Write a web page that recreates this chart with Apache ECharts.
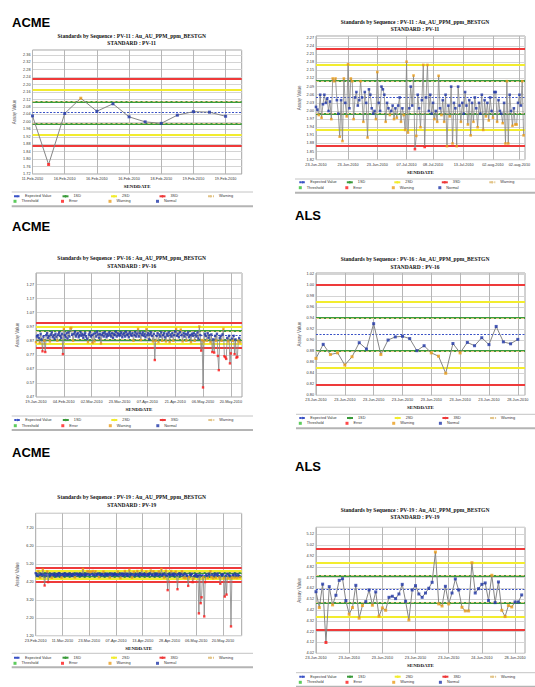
<!DOCTYPE html>
<html><head><meta charset="utf-8">
<script src="https://cdn.jsdelivr.net/npm/echarts@6/dist/echarts.min.js"></script>
<style>html,body{margin:0;padding:0;background:#fff}#c{width:535px;height:687px}</style>
</head><body><div id="c"></div>
<script>
// ================= DATA =================
// Panel 1 : ACME  PV-11
const p1Title = 'Standards by Sequence : PV-11 : Au_AU_PPM_ppm_BESTGN\nSTANDARD : PV-11';
const p1Values = [2.032, 1.771, 2.045, 2.127, 2.057, 2.097, 2.027, 2.000, 1.992, 2.036, 2.055, 2.052, 2.030];
const p1TickIdx = [0, 2, 4, 6, 8, 10, 12];
const p1TickLabels = ['11-Feb-2010','16-Feb-2010','16-Feb-2010','16-Feb-2010','18-Feb-2010','19-Feb-2010','19-Feb-2010'];
const p1Expected = 2.048, p1SD1 = [2.108, 1.988], p1SD2 = [2.168, 1.928], p1SD3 = [2.228, 1.868];

// Panel 2 : ALS  PV-11
const p2Title = 'Standards by Sequence : PV-11 : Au_AU_PPM_ppm_BESTGN\nSTANDARD : PV-11';
const p2Values = [
 2.015,2.005,1.985,2.060,1.975,2.025,2.060,2.030,2.045,2.000,
 2.035,1.970,2.120,2.110,2.120,2.040,1.990,1.905,2.040,1.889,
 2.120,2.030,1.980,2.173,2.010,2.120,2.110,1.970,2.050,2.070,
 2.020,2.040,2.110,2.050,1.960,2.070,2.030,1.902,2.080,2.060,
 2.010,1.990,2.000,1.970,2.144,2.030,2.000,2.090,2.080,2.060,
 1.960,2.030,2.010,1.985,2.000,2.020,1.970,2.010,1.975,2.020,
 2.050,1.960,2.010,1.985,1.930,2.182,1.920,2.010,2.090,2.020,
 2.131,1.859,1.908,2.060,2.010,1.940,2.040,2.170,1.867,2.050,
 2.170,2.000,2.060,1.990,2.030,1.970,2.000,1.960,2.130,2.010,
 1.985,2.040,1.960,2.060,1.870,2.020,1.980,2.090,1.880,2.030,
 2.010,1.870,2.090,2.020,1.960,2.030,1.990,2.070,2.020,1.950,
 2.040,1.910,2.030,1.960,2.050,2.010,1.940,2.030,1.990,2.060,
 1.930,2.040,1.980,2.030,1.965,2.050,2.000,1.975,2.070,2.070,
 1.960,2.040,2.000,1.990,1.955,2.030,1.880,2.110,1.880,2.060,
 2.000,1.945,2.010,1.950,1.950,2.030,2.060,2.020,2.110,1.910];
const p2TickIdx = [0, 23, 44, 65, 84, 106, 127, 146];
const p2TickLabels = ['23-Jun-2010','23-Jun-2010','23-Jun-2010','07-Jul-2010','08-Jul-2010','13-Jul-2010','02-aug-2010','02-aug-2010'];
const p2Expected = 2.048, p2SD1 = [2.108, 1.988], p2SD2 = [2.168, 1.928], p2SD3 = [2.228, 1.868];

// Panel 3 : ACME  PV-16
const p3Title = 'Standards by Sequence : PV-16 : Au_AU_PPM_ppm_BESTGN\nSTANDARD : PV-16';
const p3Values = [
 0.860,0.900,0.910,0.890,0.855,0.920,0.880,0.795,0.900,0.870,
 0.790,0.910,0.925,0.890,0.905,0.865,0.915,0.930,0.895,0.910,
 0.885,0.920,0.900,0.870,0.915,0.930,0.905,0.890,0.920,0.775,
 0.955,0.910,0.895,0.925,0.885,0.930,0.900,0.958,0.962,0.915,
 0.870,0.920,0.935,0.900,0.915,0.925,0.895,0.910,0.930,0.905,
 0.920,0.890,0.910,0.925,0.900,0.885,0.860,0.915,0.930,0.900,
 0.910,0.855,0.920,0.865,0.925,0.900,0.935,0.915,0.890,0.920,
 0.850,0.910,0.925,0.900,0.930,0.915,0.895,0.920,0.905,0.930,
 0.915,0.900,0.925,0.890,0.920,0.910,0.935,0.900,0.925,0.915,
 0.905,0.920,0.930,0.895,0.915,0.925,0.900,0.935,0.910,0.920,
 0.895,0.930,0.915,0.905,0.925,0.870,0.910,0.930,0.900,0.920,
 0.955,0.900,0.925,0.875,0.915,0.930,0.905,0.920,0.895,0.952,
 0.910,0.925,0.880,0.915,0.930,0.905,0.865,0.920,0.733,0.870,
 0.905,0.925,0.860,0.915,0.900,0.930,0.870,0.910,0.925,0.895,
 0.865,0.920,0.905,0.930,0.860,0.915,0.900,0.925,0.870,0.910,
 0.935,0.955,0.905,0.920,0.895,0.930,0.950,0.910,0.865,0.925,
 0.900,0.920,0.870,0.915,0.930,0.895,0.910,0.860,0.920,0.905,
 0.925,0.870,0.915,0.900,0.930,0.885,0.972,0.910,0.800,0.875,
 0.538,0.865,0.920,0.905,0.870,0.925,0.890,0.910,0.860,0.915,
 0.790,0.880,0.786,0.905,0.870,0.920,0.762,0.661,0.890,0.905,
 0.870,0.915,0.955,0.760,0.753,0.741,0.890,0.865,0.905,0.709,
 0.780,0.885,0.870,0.905,0.775,0.880,0.750,0.755,0.865,0.890,
 0.860];
const p3TickIdx = [0, 30, 60, 90, 120, 150, 180, 210];
const p3TickLabels = ['19-Jan-2010','04-Feb-2010','02-Mar-2010','23-Mar-2010','07-Apr-2010','21-Apr-2010','06-May-2010','20-May-2010'];
const p3Expected = 0.91, p3SD1 = [0.94, 0.88], p3SD2 = [0.97, 0.85], p3SD3 = [1.00, 0.82];

// Panel 4 : ALS  PV-16
const p4Title = 'Standards by Sequence : PV-16 : Au_AU_PPM_ppm_BESTGN\nSTANDARD : PV-16';
const p4Values = [0.867,0.8925,0.874,0.877,0.855,0.870,0.8955,0.884,0.930,0.874,0.9003,0.906,0.907,0.903,0.881,
 0.890,0.877,0.871,0.840,0.894,0.877,0.896,0.890,0.9045,0.892,0.925,0.897,0.8935,0.9015];
const p4TickIdx = [0, 4, 8, 12, 16, 20, 24, 28];
const p4TickLabels = ['23-Jun-2010','23-Jun-2010','23-Jun-2010','23-Jun-2010','23-Jun-2010','23-Jun-2010','23-Jun-2010','28-Jun-2010'];
const p4Expected = 0.91, p4SD1 = [0.94, 0.88], p4SD2 = [0.97, 0.85], p4SD3 = [1.00, 0.82];

// Panel 5 : ACME  PV-19
const p5Title = 'Standards by Sequence : PV-19 : Au_AU_PPM_ppm_BESTGN\nSTANDARD : PV-19';
const p5Values = [
 4.70,4.62,4.55,4.82,4.60,4.45,4.66,4.58,4.90,4.63,
 4.01,4.57,4.68,4.80,4.20,4.62,4.55,4.65,4.44,4.60,
 4.67,4.58,4.63,4.52,4.65,4.60,4.70,4.56,4.64,4.45,
 4.61,4.66,4.55,4.68,4.62,4.58,4.65,4.60,4.67,4.57,
 4.64,4.55,4.66,4.61,4.46,4.63,4.68,4.58,4.62,4.65,
 4.56,4.66,4.60,4.93,4.62,4.57,4.67,4.61,4.82,4.64,
 4.80,4.59,4.78,4.66,4.82,4.62,4.57,4.81,4.65,4.60,
 4.68,4.47,4.63,4.58,4.66,4.62,4.79,4.56,4.65,4.60,
 4.67,4.58,4.64,4.45,4.62,4.68,4.57,4.65,4.61,4.66,
 4.59,4.63,4.79,4.58,4.66,4.42,4.62,4.68,4.56,4.64,
 4.82,4.60,4.67,4.55,4.63,4.88,4.59,4.66,4.45,4.62,
 4.78,4.57,4.65,4.60,4.82,4.63,4.56,4.68,4.61,4.88,
 4.64,4.58,4.66,4.62,4.79,4.57,4.65,4.60,4.67,4.85,
 4.59,4.63,4.81,4.56,4.66,4.61,4.68,4.57,4.80,4.64,
 4.60,4.93,4.58,4.66,4.45,4.62,4.84,4.57,3.75,4.63,
 4.66,4.58,4.82,4.61,4.67,4.56,4.64,4.79,4.60,3.80,
 4.63,4.68,4.57,4.65,4.81,4.59,4.44,4.66,4.42,4.62,
 4.55,3.99,4.47,4.63,4.58,4.66,4.20,4.40,4.55,4.61,
 4.63,4.50,4.57,2.45,4.60,3.02,3.35,4.58,4.46,2.28,
 4.20,4.62,4.55,4.43,4.66,4.58,4.81,4.47,4.63,4.41,
 4.57,4.66,4.44,4.60,4.68,4.55,4.46,4.11,4.62,4.58,
 4.64,4.43,3.39,4.57,3.50,4.66,4.42,4.60,4.55,1.72,
 4.45,4.62,4.58,4.44,4.66,4.57,4.43,4.62,4.55,4.47];
const p5TickIdx = [0, 30, 60, 90, 120, 150, 180, 210];
const p5TickLabels = ['23-Feb-2010','11-Mar-2010','23-Mar-2010','07-Apr-2010','13-Apr-2010','28-Apr-2010','06-May-2010','20-May-2010'];
const p5Expected = 4.61, p5SD1 = [4.735, 4.485], p5SD2 = [4.86, 4.36], p5SD3 = [4.985, 4.235];

// Panel 6 : ALS  PV-19
const p6Title = 'Standards by Sequence : PV-19 : Au_AU_PPM_ppm_BESTGN\nSTANDARD : PV-19';
const p6Values = [4.59,4.443,4.66,4.12,4.637,4.468,4.557,4.695,4.71,4.508,
 4.382,4.443,4.649,4.345,4.462,4.498,4.606,4.465,4.588,4.363,
 4.44,4.418,4.538,4.548,4.526,4.569,4.658,4.502,4.329,4.606,
 4.646,4.569,4.538,4.578,4.622,4.677,4.957,4.477,4.458,4.64,
 4.477,4.578,4.708,4.606,4.446,4.412,4.412,4.858,4.578,4.618,
 4.658,4.671,4.508,4.742,4.489,4.68,4.418,4.36,4.462,4.449,
 4.495,4.495,4.56];
const p6TickIdx = [0, 10, 20, 30, 40, 50, 60];
const p6TickLabels = ['23-Jun-2010','23-Jun-2010','23-Jun-2010','23-Jun-2010','23-Jun-2010','24-Jun-2010','28-Jun-2010'];
const p6Expected = 4.61, p6SD1 = [4.735, 4.485], p6SD2 = [4.86, 4.36], p6SD3 = [4.985, 4.235];

// Lab headers
const labHeaders = [
  {name:'ACME', panel:0}, {name:'ACME', panel:2}, {name:'ALS', panel:3},
  {name:'ACME', panel:4}, {name:'ALS', panel:5}];

// Legend entries
const lineLegend = ['Expected Value', '1SD', '2SD', '3SD', 'Warning'];
const pointLegend = ['Threshold', 'Error', 'Warning pts', 'Normal'];

// ================= LAYOUT =================
const panels = [
 {title:p1Title, values:p1Values, nCat:14, tickIdx:p1TickIdx, tickLabels:p1TickLabels, exp:p1Expected, sd1:p1SD1, sd2:p1SD2, sd3:p1SD3},
 {title:p2Title, values:p2Values, nCat:151, tickIdx:p2TickIdx, tickLabels:p2TickLabels, exp:p2Expected, sd1:p2SD1, sd2:p2SD2, sd3:p2SD3},
 {title:p3Title, values:p3Values, nCat:223, tickIdx:p3TickIdx, tickLabels:p3TickLabels, exp:p3Expected, sd1:p3SD1, sd2:p3SD2, sd3:p3SD3},
 {title:p4Title, values:p4Values, nCat:30, tickIdx:p4TickIdx, tickLabels:p4TickLabels, exp:p4Expected, sd1:p4SD1, sd2:p4SD2, sd3:p4SD3},
 {title:p5Title, values:p5Values, nCat:232, tickIdx:p5TickIdx, tickLabels:p5TickLabels, exp:p5Expected, sd1:p5SD1, sd2:p5SD2, sd3:p5SD3},
 {title:p6Title, values:p6Values, nCat:64, tickIdx:p6TickIdx, tickLabels:p6TickLabels, exp:p6Expected, sd1:p6SD1, sd2:p6SD2, sd3:p6SD3}
];
const layout = [
 {grid:[32.5,50,209.2,124], yr:[1.72,2.386,0.04], tx:131.7, ty:32.35, ng:15.3, lx:13, l1:196.3, l2:201.3, lw:47.5, sep:[11.7,253,192,206.3], sym:3},
 {grid:[316,36,209,123.7], yr:[1.82,2.277,0.03], tx:415, ty:18.35, ng:13.8, lx:298.3, l1:182.3, l2:187.7, lw:46.5, sep:[295,535,179,192.7], sym:2.6},
 {grid:[36,273,206,124], yr:[0.47,1.352,0.1], tx:131.7, ty:254.6, ng:15.8, lx:13.3, l1:420, l2:425.7, lw:47.5, sep:[11.7,253,416,430], sym:2.4},
 {grid:[316,273,209,122.3], yr:[0.80,1.022,0.02], tx:415, ty:255.6, ng:13.8, lx:298.3, l1:418, l2:423.3, lw:46.7, sep:[296,535,414.3,428.3], sym:3},
 {grid:[35.7,513.3,206,122.4], yr:[1.2,8.05,1], tx:131.7, ty:493.6, ng:15.5, lx:13, l1:657.7, l2:663.3, lw:47.5, sep:[11.7,253,653.3,667.3], sym:2.4},
 {grid:[316,527.3,209,126], yr:[4.02,5.186,0.1], tx:415, ty:506.3, ng:13.8, lx:298.3, l1:676.7, l2:682.3, lw:46.7, sep:[296,535,672.7,686.7], sym:3}
];
const headerPos = [[12,15.5],[12,220.3],[295,208.5],[12,446],[295,459.5]];

const COL = {red:'#ee3a3a', yellow:'#f2ec2e', green:'#3b9b3b', tan:'#e2c488', blue:'#3a52c6',
  line:'#858585', normal:'#1f36a8', warn:'#ea9c1a', err:'#ff1a1a', thr:'#33bf33'};
const SANS = 'Liberation Sans', SERIF = 'Liberation Serif';

function status(v, p) {
  if (v > p.sd3[0] || v < p.sd3[1]) return 'Error';
  if (v > p.sd1[0] || v < p.sd1[1]) return 'Warning';
  return 'Normal';
}
function refLine(name, levels, color, width, type, i, z) {
  return {type:'line', name, xAxisIndex:i, yAxisIndex:i, data:[], symbol:'none', z,
    lineStyle:{color, width, type}, itemStyle:{color}, silent:true, animation:false,
    markLine:{silent:true, symbol:['none','none'], label:{show:false}, animation:false, z,
      lineStyle:{color, width, type}, emphasis:{disabled:true},
      data: levels.map(v => ({yAxis:v}))}};
}

const option = {animation:false, backgroundColor:'#fff',
  title:[], legend:[], grid:[], xAxis:[], yAxis:[], series:[], graphic:[]};

labHeaders.forEach((h, k) => option.title.push({text:h.name, left:headerPos[k][0], top:headerPos[k][1], padding:0,
  textStyle:{fontFamily:SANS, fontWeight:'bold', fontSize:13, color:'#000'}}));

panels.forEach((p, i) => {
  const L = layout[i];
  const tickSet = new Set(p.tickIdx);
  const labelOf = {};
  p.tickIdx.forEach((t, k) => labelOf[t] = p.tickLabels[k]);
  const cats = Array.from({length:p.nCat}, (_, k) => String(k));
  option.grid.push({left:L.grid[0], top:L.grid[1], width:L.grid[2], height:L.grid[3],
    show:true, borderColor:'#a4a4a4', borderWidth:1, backgroundColor:'transparent'});
  option.xAxis.push({type:'category', gridIndex:i, data:cats, boundaryGap:false,
    axisLine:{show:false}, axisTick:{show:false},
    axisLabel:{interval:(idx) => tickSet.has(idx), formatter:(v, idx) => labelOf[idx] || '',
      fontSize:3.8, fontFamily:SANS, color:'#333', margin:3},
    splitLine:{show:true, interval:(idx) => tickSet.has(idx), lineStyle:{color:'#b6b6b6', width:1}},
    name:'SENDDATE', nameLocation:'middle', nameGap:10,
    nameTextStyle:{fontFamily:SERIF, fontWeight:'bold', fontSize:5, color:'#111'}});
  option.yAxis.push({type:'value', gridIndex:i, min:L.yr[0], max:L.yr[1], interval:L.yr[2],
    axisLine:{show:false}, axisTick:{show:false},
    axisLabel:{fontSize:3.8, fontFamily:SANS, color:'#333', margin:2, showMaxLabel:false,
      formatter:(v) => v.toFixed(2)},
    splitLine:{show:true, lineStyle:{color:'#d4d4d4', width:1}},
    name:'Assay Value', nameLocation:'middle', nameGap:L.ng,
    nameTextStyle:{fontFamily:SANS, fontSize:4.5, color:'#555'}});
  option.title.push({text:p.title, left:L.tx, top:L.ty, textAlign:'center', padding:0,
    textStyle:{fontFamily:SERIF, fontWeight:'bold', fontSize:5.5, lineHeight:7.3, color:'#111'}});

  // reference lines
  option.series.push(refLine('3SD', p.sd3, COL.red, 2, 'solid', i, 2));
  option.series.push(refLine('2SD', p.sd2, COL.yellow, 2, 'solid', i, 2));
  option.series.push(refLine('1SD', p.sd1, COL.green, 2, 'solid', i, 2));
  option.series.push(refLine('Warning', p.sd1, COL.tan, 1, [3, 2], i, 3));
  option.series.push(refLine('Expected Value', [p.exp], COL.blue, 1.2, [2, 1.5], i, 3));
  // data line
  option.series.push({type:'line', name:'Assay', xAxisIndex:i, yAxisIndex:i, data:p.values,
    symbol:'none', silent:true, z:10, itemStyle:{color:COL.line},
    lineStyle:{color:COL.line, width:(p.values.length > 100 ? 0.8 : 1)}});
  // points by status
  const groups = {Normal:[], Warning:[], Error:[]};
  p.values.forEach((v, k) => groups[status(v, p)].push([k, v]));
  const pt = (name, data, color) => ({type:'scatter', name, xAxisIndex:i, yAxisIndex:i, data,
    symbol:'rect', symbolSize:L.sym, itemStyle:{color}, z:11, silent:true});
  option.series.push(pt('Threshold', [], COL.thr));
  option.series.push(pt('Normal', groups.Normal, COL.normal));
  option.series.push(pt('Warning pts', groups.Warning, COL.warn));
  option.series.push(pt('Error', groups.Error, COL.err));

  // legends
  option.legend.push({left:L.lx, top:L.l1 - 2.25, width:300, orient:'horizontal', padding:0, itemGap:0,
    itemWidth:6, itemHeight:3, selectedMode:false, data:lineLegend,
    textStyle:{fontFamily:SANS, fontSize:3.8, lineHeight:4.5, color:'#333', width:L.lw - 11}});
  option.legend.push({left:L.lx + 0.5, top:L.l2 - 2.25, width:300, orient:'horizontal', padding:0, itemGap:0,
    itemWidth:3, itemHeight:3, selectedMode:false,
    data:pointLegend.map(n => ({name:n, icon:'rect'})),
    formatter:(n) => n === 'Warning pts' ? 'Warning' : n,
    textStyle:{fontFamily:SANS, fontSize:3.8, lineHeight:4.5, color:'#333', width:L.lw - 8}});
  // separators around legend
  option.graphic.push({type:'line', silent:true, shape:{x1:L.sep[0], y1:L.sep[2], x2:L.sep[1], y2:L.sep[2]},
    style:{stroke:'#c4c4c4', lineWidth:1}});
  option.graphic.push({type:'line', silent:true, shape:{x1:L.sep[0], y1:L.sep[3], x2:L.sep[1], y2:L.sep[3]},
    style:{stroke:'#b4b4b4', lineWidth:2}});
});

const chart = echarts.init(document.getElementById('c'), null, {renderer:'svg', width:535, height:687});
chart.setOption(option);
</script></body></html>
